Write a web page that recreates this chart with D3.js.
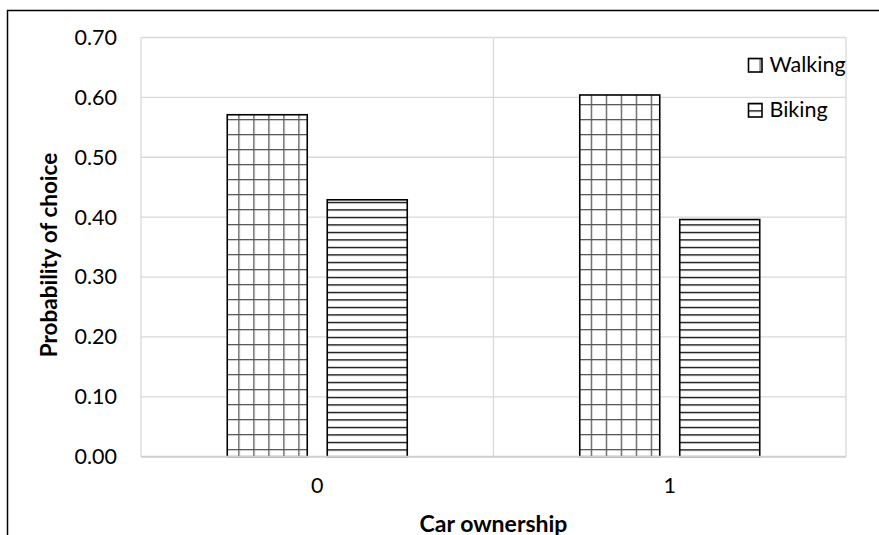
<!DOCTYPE html>
<html>
<head>
<meta charset="utf-8">
<script src="https://cdn.jsdelivr.net/npm/d3@7"></script>
<style>
  html, body { margin: 0; padding: 0; background: #fff; }
  svg { display: block; font-family: Lato, "Open Sans", sans-serif; }
</style>
</head>
<body>
<svg id="chart" width="879" height="535"></svg>
<script>
// Probability of choosing each active mode, by car ownership
const categories = ["0", "1"];
const series = ["Walking", "Biking"];
const walking = [0.571, 0.604];
const biking = [0.429, 0.396];
const yTicks = [0, 0.1, 0.2, 0.3, 0.4, 0.5, 0.6, 0.7];

const rows = categories.map((c, i) => ({ cat: c, Walking: walking[i], Biking: biking[i] }));

const W = 879, H = 535;
const margin = { top: 37.5, right: 33, bottom: 78.3, left: 141 };
const svg = d3.select("#chart");

// Fill patterns, laid out in page space so the lattice stays continuous
const defs = svg.append("defs");
const grid = defs.append("pattern")
  .attr("id", "pat-walking")
  .attr("patternUnits", "userSpaceOnUse")
  .attr("x", 11).attr("y", 14)
  .attr("width", 15).attr("height", 15);
grid.append("rect").attr("width", 15).attr("height", 15).attr("fill", "#fff");
grid.append("line").attr("x1", 0).attr("y1", 0).attr("x2", 15).attr("y2", 0)
  .attr("stroke", "#595959").attr("stroke-width", 2.6);
grid.append("line").attr("x1", 0).attr("y1", 0).attr("x2", 0).attr("y2", 15)
  .attr("stroke", "#595959").attr("stroke-width", 2.6);

const stripes = defs.append("pattern")
  .attr("id", "pat-biking")
  .attr("patternUnits", "userSpaceOnUse")
  .attr("x", 0).attr("y", 6.8)
  .attr("width", 20).attr("height", 7.5);
stripes.append("rect").attr("width", 20).attr("height", 7.5).attr("fill", "#fff");
stripes.append("line").attr("x1", 0).attr("y1", 0).attr("x2", 20).attr("y2", 0)
  .attr("stroke", "#000").attr("stroke-width", 2.6);

const fills = { Walking: "url(#pat-walking)", Biking: "url(#pat-biking)" };

// Outer chart frame (open at right and bottom edges of the page)
svg.append("rect")
  .attr("x", 7.5).attr("y", 10.5)
  .attr("width", W + 20).attr("height", H + 20)
  .attr("fill", "none").attr("stroke", "#000").attr("stroke-width", 1.5);

const x0 = d3.scaleBand().domain(categories)
  .range([margin.left, W - margin.right]).paddingInner(0).paddingOuter(0);
const groupWidth = 180;
const x1 = d3.scaleBand().domain(series)
  .range([0, groupWidth]).paddingInner(0.2).paddingOuter(0);
const y = d3.scaleLinear().domain([0, 0.7]).range([H - margin.bottom, margin.top]);

// Horizontal gridlines
svg.append("g")
  .selectAll("line").data(yTicks).join("line")
  .attr("x1", margin.left).attr("x2", W - margin.right)
  .attr("y1", d => y(d)).attr("y2", d => y(d))
  .attr("stroke", "#d9d9d9").attr("stroke-width", 1.3);

// Vertical category dividers
const dividers = categories.map(c => x0(c)).concat([x0(categories[categories.length - 1]) + x0.bandwidth()]);
svg.append("g")
  .selectAll("line").data(dividers).join("line")
  .attr("x1", d => d).attr("x2", d => d)
  .attr("y1", margin.top).attr("y2", H - margin.bottom)
  .attr("stroke", "#d9d9d9").attr("stroke-width", 1.3);

// Bars
const offset = (x0.bandwidth() - groupWidth) / 2;
svg.append("g")
  .selectAll("g").data(rows).join("g")
  .attr("transform", d => `translate(${x0(d.cat) + offset},0)`)
  .selectAll("rect").data(d => series.map(s => ({ s, v: d[s] }))).join("rect")
  .attr("x", d => x1(d.s))
  .attr("width", x1.bandwidth())
  .attr("y", d => y(d.v))
  .attr("height", d => y(0) - y(d.v))
  .attr("fill", d => fills[d.s])
  .attr("stroke", "#000").attr("stroke-width", 1.6);

// Category axis line
svg.append("line")
  .attr("x1", margin.left).attr("x2", W - margin.right)
  .attr("y1", y(0)).attr("y2", y(0))
  .attr("stroke", "#d0d0d0").attr("stroke-width", 2);

// Y axis labels
const yAxis = d3.axisLeft(y).tickValues(yTicks).tickFormat(d3.format(".2f")).tickSize(0).tickPadding(24);
const gy = svg.append("g").attr("transform", `translate(${margin.left},0)`).call(yAxis);
gy.select(".domain").remove();
gy.selectAll("text").attr("font-family", "Lato, sans-serif").attr("font-size", 21.5).attr("fill", "#000");

// X axis labels
const xAxis = d3.axisBottom(x0).tickSize(0).tickPadding(21);
const gx = svg.append("g").attr("transform", `translate(0,${y(0)})`).call(xAxis);
gx.select(".domain").remove();
gx.selectAll("text").attr("font-family", "Lato, sans-serif").attr("font-size", 21.5).attr("fill", "#000");

// Axis titles
svg.append("text")
  .attr("transform", `translate(57,255) rotate(-90)`)
  .attr("text-anchor", "middle")
  .attr("font-size", 22.5).attr("font-weight", "bold").attr("fill", "#000")
  .text("Probability of choice");

svg.append("text")
  .attr("x", (margin.left + W - margin.right) / 2)
  .attr("y", 531.5)
  .attr("text-anchor", "middle")
  .attr("font-size", 23).attr("font-weight", "bold").attr("fill", "#000")
  .text("Car ownership");

// Legend
const legend = svg.append("g");
const legendRows = legend.selectAll("g").data(series).join("g")
  .attr("transform", (d, i) => `translate(748.5,${58.5 + i * 45})`);
legendRows.append("rect")
  .attr("width", 13.5).attr("height", 13.5)
  .attr("fill", d => fills[d])
  .attr("stroke", "#000").attr("stroke-width", 1.6);
legendRows.append("text")
  .attr("x", 21).attr("y", 13.3)
  .attr("font-size", 21.5).attr("fill", "#000")
  .text(d => d);
</script>
</body>
</html>
